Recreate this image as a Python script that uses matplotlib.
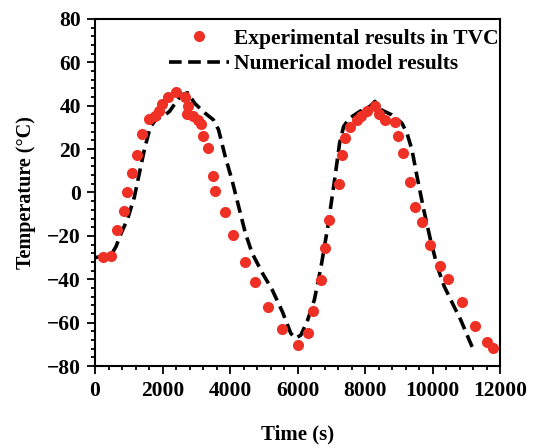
import numpy as np
import matplotlib.pyplot as plt
from matplotlib.ticker import MultipleLocator

# Experimental results (time in s, temperature in degC)
exp_time = [239, 479, 638, 857, 937, 1097, 1246, 1396, 1595, 1765, 1894, 1984,
            2154, 2403, 2672, 2752, 2732, 2891, 3041, 3131, 3200, 3340, 3490,
            3549, 3858, 4088, 4437, 4736, 5115, 5543, 6002, 6301, 6451, 6710,
            6829, 6929, 7228, 7318, 7398, 7547, 7767, 7886, 8066, 8305, 8405,
            8594, 8883, 8973, 9113, 9332, 9472, 9701, 9920, 10209, 10449,
            10887, 11266, 11615, 11794]
exp_temp = [-29.7, -29.1, -17.1, -8.6, 0.0, 9.1, 17.1, 26.8, 33.8, 35.4, 37.7,
            40.8, 44.0, 46.2, 44.2, 40.0, 36.3, 35.1, 33.2, 31.4, 26.2, 20.5,
            7.4, 0.9, -9.2, -19.5, -32.2, -41.2, -52.6, -62.9, -70.3, -64.8,
            -54.5, -40.2, -25.8, -12.8, 3.8, 17.4, 24.9, 30.0, 33.4, 35.5,
            37.7, 40.0, 36.0, 33.5, 32.5, 26.0, 18.0, 4.9, -6.6, -13.8, -24.3,
            -34.0, -39.7, -50.5, -61.4, -68.8, -71.7]

# Numerical model results
num_time = [0, 470, 620, 770, 970, 1167, 1316, 1466, 1635, 1815, 2014, 2213,
            2413, 2562, 2742, 2961, 3260, 3509, 3659, 3858, 4058, 4257, 4457,
            4656, 4955, 5254, 5553, 5803, 5952, 6102, 6301, 6500, 6700, 6899,
            7099, 7248, 7368, 7547, 7846, 8146, 8295, 8495, 8794, 9093, 9242,
            9392, 9541, 9741, 9940, 10140, 10339, 10588, 10838, 11087, 11236]
num_temp = [-30.0, -29.0, -25.0, -19.0, -12.0, -2.0, 9.0, 20.0, 30.0, 34.0,
            35.0, 37.5, 42.0, 45.0, 46.0, 41.0, 36.6, 33.5, 29.0, 16.6, 5.8,
            -6.5, -18.8, -28.0, -37.0, -45.0, -55.0, -65.0, -67.2, -65.7,
            -58.8, -49.5, -34.0, -15.7, 5.8, 22.8, 30.5, 34.3, 37.4, 39.7,
            42.0, 38.0, 35.8, 32.0, 27.4, 19.7, 7.4, -8.0, -21.8, -34.0,
            -43.0, -51.0, -58.8, -68.0, -73.4]

plt.rcParams['font.family'] = 'Liberation Serif'
plt.rcParams['font.weight'] = 'bold'

fig = plt.figure(figsize=(5.48, 4.48), dpi=100)
ax = fig.add_axes([95 / 548, 82 / 448, 405 / 548, 347 / 448])

ax.plot(exp_time, exp_temp, 'o', color='#ee3124', markersize=8,
        markeredgewidth=0, label='Experimental results in TVC', zorder=3)
ax.plot(num_time, num_temp, '--', color='black', linewidth=2.6,
        dashes=(3.5, 1.8), label='Numerical model results', zorder=2)

ax.set_xlim(0, 12000)
ax.set_ylim(-80, 80)
ax.xaxis.set_major_locator(MultipleLocator(2000))
ax.xaxis.set_minor_locator(MultipleLocator(400))
ax.yaxis.set_major_locator(MultipleLocator(20))
ax.yaxis.set_minor_locator(MultipleLocator(4))
ax.tick_params(which='both', direction='out', width=1.3, labelsize=15.5)
ax.tick_params(axis='x', which='major', length=6, pad=5)
ax.tick_params(axis='x', which='minor', length=3)
ax.tick_params(axis='y', which='major', length=6, pad=4)
ax.tick_params(axis='y', which='minor', length=3)
for s in ax.spines.values():
    s.set_linewidth(1.5)

ax.set_xlabel('Time (s)', fontsize=15, fontweight='bold', labelpad=17)
ax.set_ylabel('Temperature (°C)', fontsize=14.5, fontweight='bold', labelpad=8)

ax.legend(loc='upper right', bbox_to_anchor=(1.02, 1.0), frameon=False,
          handlelength=2.8, handletextpad=0.2, borderaxespad=0.05,
          labelspacing=0.25, prop={'weight': 'bold', 'size': 15.5})

fig.savefig('out.png', dpi=100)
